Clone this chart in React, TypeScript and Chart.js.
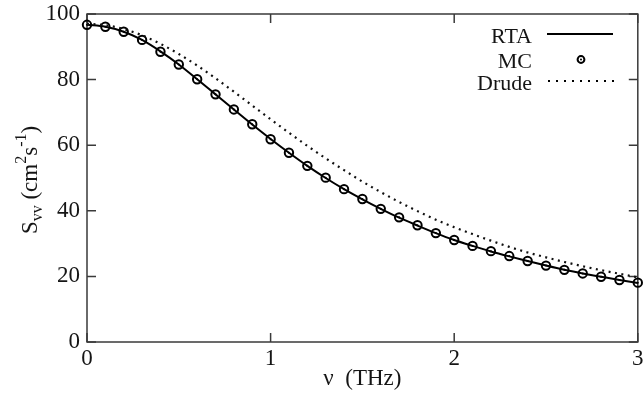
import React, { useEffect, useRef } from "react";
import { Chart, registerables } from "chart.js";

Chart.register(...registerables);

const NU = [0, 0.1, 0.2, 0.3, 0.4, 0.5, 0.6, 0.7, 0.8, 0.9, 1.0, 1.1, 1.2, 1.3, 1.4, 1.5, 1.6, 1.7, 1.8, 1.9, 2.0, 2.1, 2.2, 2.3, 2.4, 2.5, 2.6, 2.7, 2.8, 2.9, 3.0];
const RTA = [96.7, 96.1, 94.6, 92.1, 88.6, 84.6, 80.1, 75.5, 70.9, 66.3, 61.9, 57.7, 53.7, 50.0, 46.6, 43.5, 40.6, 37.9, 35.5, 33.2, 31.1, 29.3, 27.6, 26.1, 24.7, 23.3, 22.0, 20.9, 19.9, 18.9, 18.0];
const MC = [96.7, 96.1, 94.6, 92.1, 88.5, 84.6, 80.1, 75.5, 70.9, 66.4, 61.8, 57.7, 53.7, 50.1, 46.6, 43.6, 40.6, 38.0, 35.6, 33.2, 31.1, 29.3, 27.7, 26.2, 24.7, 23.3, 22.0, 20.9, 19.9, 18.9, 18.1];
const DRUDE = [97.0, 96.6, 95.4, 93.5, 90.9, 87.8, 84.3, 80.4, 76.3, 72.1, 67.9, 63.8, 59.8, 56.0, 52.4, 48.9, 45.7, 42.7, 39.9, 37.3, 35.0, 32.9, 30.9, 29.0, 27.3, 25.8, 24.4, 23.1, 21.9, 20.8, 19.7];

const X_TICKS = [0, 1, 2, 3];
const Y_TICKS = [0, 20, 40, 60, 80, 100];
const LEGEND_LABELS = ["RTA", "MC", "Drude"];
const X_TITLE = "ν  (THz)";
const Y_TITLE_PARTS: [string, string][] = [
  ["S", "main"],
  ["vv", "sub"],
  [" (cm", "main"],
  ["2", "sup"],
  ["s", "main"],
  ["-1", "sup"],
  [")", "main"],
];

const FONT = '"Liberation Serif", "Times New Roman", serif';
const FRAME = "#3a3a3a";
const TEXT = "#151515";

const pts = (ys: number[]) => NU.map((x, i) => ({ x, y: ys[i] }));

const decorPlugin = {
  id: "decor",
  beforeDatasetsDraw(chart: any) {
    const { ctx, chartArea: a, scales } = chart;
    ctx.save();
    ctx.strokeStyle = FRAME;
    ctx.lineWidth = 1.5;
    ctx.strokeRect(a.left, a.top, a.right - a.left, a.bottom - a.top);
    const tl = 9;
    ctx.beginPath();
    for (const v of Y_TICKS) {
      const y = scales.y.getPixelForValue(v);
      ctx.moveTo(a.left, y);
      ctx.lineTo(a.left + tl, y);
      ctx.moveTo(a.right, y);
      ctx.lineTo(a.right - tl, y);
    }
    for (const v of X_TICKS) {
      const x = scales.x.getPixelForValue(v);
      ctx.moveTo(x, a.bottom);
      ctx.lineTo(x, a.bottom - tl);
      ctx.moveTo(x, a.top);
      ctx.lineTo(x, a.top + tl);
    }
    ctx.stroke();
    ctx.restore();
  },
  afterDraw(chart: any) {
    const { ctx, chartArea: a } = chart;
    ctx.save();
    ctx.fillStyle = TEXT;
    // x title
    ctx.font = `23px ${FONT}`;
    ctx.textAlign = "center";
    ctx.textBaseline = "alphabetic";
    ctx.fillText(X_TITLE, (a.left + a.right) / 2, 385);

    // y title (rotated)
    ctx.save();
    ctx.translate(28, 180);
    ctx.rotate(-Math.PI / 2);
    const fontFor = (k: string) => (k === "main" ? `23px ${FONT}` : `16px ${FONT}`);
    let total = 0;
    for (const [t, k] of Y_TITLE_PARTS) {
      ctx.font = fontFor(k);
      total += ctx.measureText(t).width;
    }
    let x = -total / 2;
    ctx.textAlign = "left";
    ctx.textBaseline = "alphabetic";
    for (const [t, k] of Y_TITLE_PARTS) {
      ctx.font = fontFor(k);
      const dy = k === "sub" ? 5 : k === "sup" ? -11 : 0;
      ctx.fillText(t, x, 9 + dy);
      x += ctx.measureText(t).width;
    }
    ctx.restore();

    // legend
    ctx.font = `22px ${FONT}`;
    ctx.textAlign = "right";
    ctx.textBaseline = "alphabetic";
    const baselines = [43, 68, 90];
    LEGEND_LABELS.forEach((l, i) => ctx.fillText(l, 532, baselines[i]));
    ctx.strokeStyle = "#000";
    ctx.lineWidth = 2;
    ctx.beginPath();
    ctx.moveTo(547, 34);
    ctx.lineTo(613, 34);
    ctx.stroke();
    ctx.beginPath();
    ctx.arc(581, 59.5, 3.4, 0, Math.PI * 2);
    ctx.stroke();
    ctx.fillStyle = "#000";
    ctx.beginPath();
    ctx.arc(581, 59.5, 1, 0, Math.PI * 2);
    ctx.fill();
    ctx.setLineDash([2, 6]);
    ctx.beginPath();
    ctx.moveTo(548, 81);
    ctx.lineTo(614, 81);
    ctx.stroke();
    ctx.restore();
  },
};

export default function App() {
  const ref = useRef<HTMLCanvasElement | null>(null);
  useEffect(() => {
    if (!ref.current) return;
    const chart = new Chart(ref.current, {
      type: "scatter",
      data: {
        datasets: [
          {
            label: LEGEND_LABELS[2],
            data: pts(DRUDE),
            showLine: true,
            borderColor: "#111",
            borderWidth: 2.2,
            borderDash: [2, 4.5],
            pointRadius: 0,
            cubicInterpolationMode: "monotone",
            clip: false,
          },
          {
            label: LEGEND_LABELS[0],
            data: pts(RTA),
            showLine: true,
            borderColor: "#000",
            borderWidth: 2,
            pointRadius: 0,
            cubicInterpolationMode: "monotone",
            clip: false,
          },
          {
            label: LEGEND_LABELS[1],
            data: pts(MC),
            showLine: false,
            pointRadius: 4.2,
            pointBorderWidth: 2,
            pointBorderColor: "#000",
            pointBackgroundColor: "rgba(0,0,0,0)",
            clip: false,
          },
          {
            label: "MC-center",
            data: pts(MC),
            showLine: false,
            pointRadius: 1,
            pointBorderWidth: 0,
            pointBackgroundColor: "#000",
            clip: false,
          },
        ] as any,
      },
      options: {
        animation: false,
        responsive: false,
        devicePixelRatio: 1,
        layout: { padding: { top: 14, right: 2, left: 0, bottom: 0 } },
        plugins: { legend: { display: false }, tooltip: { enabled: false } },
        scales: {
          x: {
            type: "linear",
            min: 0,
            max: 3,
            grid: { display: false, drawTicks: false },
            border: { display: false },
            ticks: {
              stepSize: 1,
              padding: 3,
              maxRotation: 0,
              autoSkip: false,
              color: TEXT,
              font: { family: FONT, size: 23 },
            },
            afterBuildTicks: (s: any) => {
              s.ticks = X_TICKS.map((v) => ({ value: v }));
            },
            afterFit: (s: any) => {
              s.height = 55;
              s.paddingLeft = 0;
              s.paddingRight = 0;
            },
          },
          y: {
            min: 0,
            max: 100,
            grid: { display: false, drawTicks: false },
            border: { display: false },
            ticks: {
              stepSize: 20,
              padding: 7,
              color: TEXT,
              font: { family: FONT, size: 23 },
            },
            afterBuildTicks: (s: any) => {
              s.ticks = Y_TICKS.map((v) => ({ value: v }));
            },
            afterFit: (s: any) => {
              s.width = 87;
              s.paddingTop = 0;
              s.paddingBottom = 0;
            },
          },
        },
      } as any,
      plugins: [decorPlugin],
    });
    return () => chart.destroy();
  }, []);
  return (
    <div style={{ position: "absolute", left: 0, top: 0, width: 644, height: 397, background: "#fff" }}>
      <canvas ref={ref} width={644} height={397} style={{ width: 644, height: 397, display: "block" }} />
    </div>
  );
}
